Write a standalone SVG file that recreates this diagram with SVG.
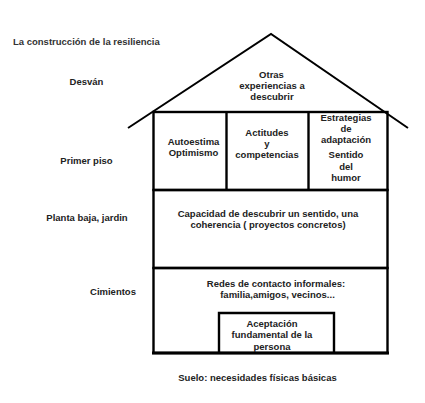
<svg xmlns="http://www.w3.org/2000/svg" width="425" height="403" viewBox="0 0 425 403">
<style>
text{font-family:"Liberation Sans",Arial,sans-serif;font-size:9.5px;font-weight:bold;fill:#222;text-anchor:middle}
.ln{stroke:#000;fill:none;stroke-width:2.4}
.roof{stroke:#000;fill:none;stroke-width:2}
</style>
<rect width="425" height="403" fill="#fff"/>
<text x="13" y="45" style="text-anchor:start;fill:#333">La construcción de la resiliencia</text>
<g id="labels">
<text x="86.5" y="85">Desván</text>
<text x="86.5" y="163.5">Primer piso</text>
<text x="87" y="221">Planta baja, jardin</text>
<text x="113" y="294.5">Cimientos</text>
<text x="257.5" y="380.5">Suelo: necesidades físicas básicas</text>
</g>
<g id="connectors">
<polyline class="roof" points="128,128 271,34 408,128"/>
</g>
<g id="desvan">
<text x="271.5" y="77.5">Otras</text>
<text x="272" y="88.5">experiencias a</text>
<text x="272" y="99.5">descubrir</text>
</g>
<g id="primer-piso">
<rect class="ln" x="153.5" y="112" width="234" height="78"/>
<line class="ln" x1="226.5" y1="112" x2="226.5" y2="190"/>
<line class="ln" x1="308.5" y1="112" x2="308.5" y2="190"/>
<text x="193.5" y="145">Autoestima</text>
<text x="193.5" y="156">Optimismo</text>
<text x="267" y="136">Actitudes</text>
<text x="267" y="147">y</text>
<text x="267" y="158">competencias</text>
<text x="346" y="121">Estrategias</text>
<text x="346" y="132">de</text>
<text x="346" y="143">adaptación</text>
<text x="346" y="158">Sentido</text>
<text x="346" y="169.5">del</text>
<text x="346" y="181">humor</text>
</g>
<g id="planta-baja">
<rect class="ln" x="153.5" y="190" width="234" height="78"/>
<text x="268" y="217">Capacidad de descubrir un sentido, una</text>
<text x="268" y="228">coherencia ( proyectos concretos)</text>
</g>
<g id="cimientos">
<rect class="ln" x="153.5" y="268" width="234" height="85"/>
<line x1="152" y1="353" x2="389" y2="353" stroke="#000" stroke-width="3"/>
<text x="276" y="286.5">Redes de contacto informales:</text>
<text x="277.5" y="298">familia,amigos, vecinos...</text>
</g>
<g id="aceptacion">
<polyline class="ln" points="219,353 219,313 334,313 334,353"/>
<text x="272" y="326.5">Aceptación</text>
<text x="272" y="338">fundamental de la</text>
<text x="272" y="349.5">persona</text>
</g>
</svg>
